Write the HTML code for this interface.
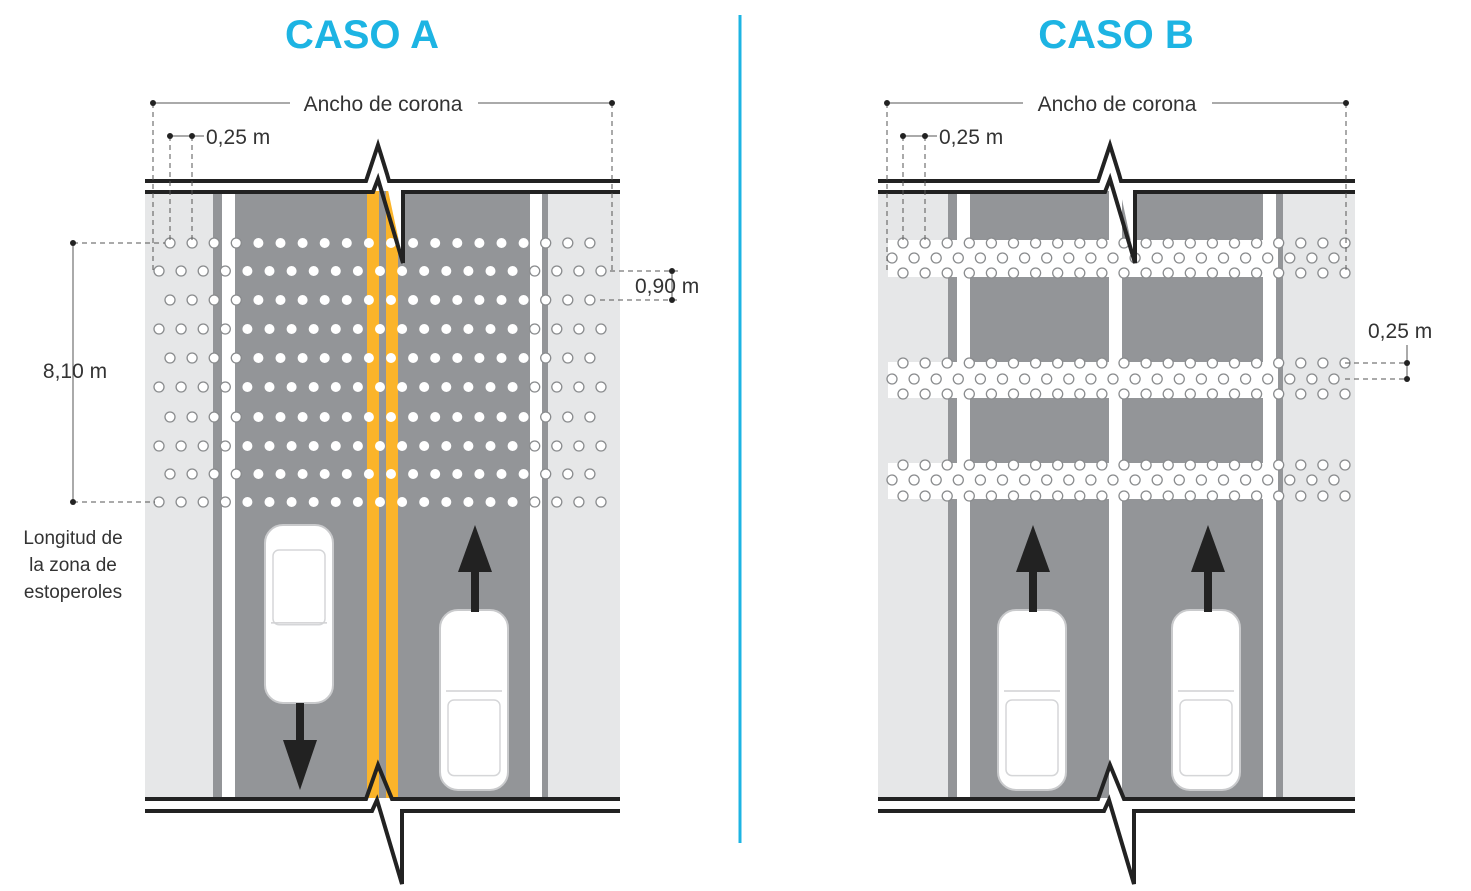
<!DOCTYPE html>
<html><head><meta charset="utf-8"><style>
html,body{margin:0;padding:0;background:#fff;}
svg{display:block;font-family:"Liberation Sans",sans-serif;}
</style></head><body>
<svg id="s" width="1471" height="891" viewBox="0 0 1471 891" xmlns="http://www.w3.org/2000/svg">
<rect x="145" y="186" width="475" height="612" fill="#e6e7e8"/>
<rect x="213" y="186" width="335" height="612" fill="#939598"/>
<rect x="222" y="186" width="13" height="612" fill="#fff"/>
<rect x="530" y="186" width="12" height="612" fill="#fff"/>
<rect x="367" y="186" width="12" height="612" fill="#fbb42a"/>
<rect x="386" y="186" width="12" height="612" fill="#fbb42a"/>
<rect x="878" y="186" width="477" height="612" fill="#e6e7e8"/>
<rect x="948" y="186" width="335" height="612" fill="#939598"/>
<rect x="957" y="186" width="13" height="612" fill="#fff"/>
<rect x="1109" y="186" width="13" height="612" fill="#fff"/>
<rect x="1263" y="186" width="13" height="612" fill="#fff"/>
<rect x="888" y="240" width="390" height="37" fill="#fff"/>
<rect x="888" y="362" width="390" height="36" fill="#fff"/>
<rect x="888" y="463" width="390" height="36" fill="#fff"/>
<g id="dots"></g>
<g id="brk"></g>
<text x="362" y="48" text-anchor="middle" font-size="40" font-weight="bold" fill="#1db4e3">CASO A</text>
<text x="1116" y="48" text-anchor="middle" font-size="40" font-weight="bold" fill="#1db4e3">CASO B</text>
<line x1="740" y1="15" x2="740" y2="843" stroke="#1db4e3" stroke-width="3"/>
<g stroke="#555" stroke-width="1" fill="none">
<line x1="153" y1="103" x2="290" y2="103"/><line x1="478" y1="103" x2="612" y2="103"/>
<line x1="153" y1="103" x2="153" y2="272" stroke-dasharray="5,4"/>
<line x1="612" y1="103" x2="612" y2="272" stroke-dasharray="5,4"/>
<line x1="170" y1="136" x2="204" y2="136"/>
<line x1="170" y1="136" x2="170" y2="243" stroke-dasharray="5,4"/>
<line x1="192" y1="136" x2="192" y2="243" stroke-dasharray="5,4"/>
<line x1="73" y1="243" x2="73" y2="502"/>
<line x1="73" y1="243" x2="165" y2="243" stroke-dasharray="5,4"/>
<line x1="73" y1="502" x2="155" y2="502" stroke-dasharray="5,4"/>
<line x1="672" y1="271" x2="672" y2="300"/>
<line x1="610" y1="271" x2="680" y2="271" stroke-dasharray="5,4"/>
<line x1="600" y1="300" x2="680" y2="300" stroke-dasharray="5,4"/>
<line x1="887" y1="103" x2="1023" y2="103"/><line x1="1212" y1="103" x2="1346" y2="103"/>
<line x1="887" y1="103" x2="887" y2="270" stroke-dasharray="5,4"/>
<line x1="1346" y1="103" x2="1346" y2="270" stroke-dasharray="5,4"/>
<line x1="903" y1="136" x2="937" y2="136"/>
<line x1="903" y1="136" x2="903" y2="243" stroke-dasharray="5,4"/>
<line x1="925" y1="136" x2="925" y2="243" stroke-dasharray="5,4"/>
<line x1="1407" y1="345" x2="1407" y2="382"/>
<line x1="1345" y1="363" x2="1410" y2="363" stroke-dasharray="5,4"/>
<line x1="1345" y1="379" x2="1410" y2="379" stroke-dasharray="5,4"/>
</g>
<g fill="#222">
<circle cx="153" cy="103" r="3"/><circle cx="612" cy="103" r="3"/>
<circle cx="170" cy="136" r="3"/><circle cx="192" cy="136" r="3"/>
<circle cx="73" cy="243" r="3"/><circle cx="73" cy="502" r="3"/>
<circle cx="672" cy="271" r="3"/><circle cx="672" cy="300" r="3"/>
<circle cx="887" cy="103" r="3"/><circle cx="1346" cy="103" r="3"/>
<circle cx="903" cy="136" r="3"/><circle cx="925" cy="136" r="3"/>
<circle cx="1407" cy="363" r="3"/><circle cx="1407" cy="379" r="3"/>
</g>
<g font-size="21" fill="#333">
<text x="383" y="111" text-anchor="middle">Ancho de corona</text>
<text x="206" y="144">0,25 m</text>
<text x="75" y="378" text-anchor="middle">8,10 m</text>
<text x="635" y="293">0,90 m</text>
<text x="1117" y="111" text-anchor="middle">Ancho de corona</text>
<text x="939" y="144">0,25 m</text>
<text x="1368" y="338">0,25 m</text>
</g>
<g font-size="19" fill="#333" text-anchor="middle">
<text x="73" y="544">Longitud de</text>
<text x="73" y="571">la zona de</text>
<text x="73" y="598">estoperoles</text>
</g>
<g id="cars"></g>
</svg>
<script>
var NS="http://www.w3.org/2000/svg";
function el(p,t,a){var e=document.createElementNS(NS,t);for(var k in a)e.setAttribute(k,a[k]);p.appendChild(e);return e;}
var d=document.getElementById('dots');
function dot(x,y,plain){if(plain)el(d,'circle',{cx:x,cy:y,r:5,fill:'#fff'});else el(d,'circle',{cx:x,cy:y,r:5,fill:'#fff',stroke:'#8a8c8e','stroke-width':1.3});}
var ys=[243,271,300,329,358,387,417,446,474,502];
ys.forEach(function(y,i){var x0=(i%2==0)?170:159;for(var x=x0;x<=612;x+=22.1)dot(x,y,(x>238&&x<527));});
[[243,258,273],[363,379,394],[465,480,496]].forEach(function(b){
 b.forEach(function(y,i){var x0=(i==1)?892:903;for(var x=x0;x<=1346;x+=22.1)dot(x,y,false);});
});
var g=document.getElementById('brk');
function road(x1,x2,bx,top){
 if(top){
  el(g,'rect',{x:x1,y:181,width:x2-x1,height:10,fill:'#fff'});
  el(g,'polygon',{points:(bx-13)+',181 '+bx+',143 '+(bx+26)+',265 '+(bx+26)+',191 '+(bx-6)+',191',fill:'#fff'});
  el(g,'polyline',{points:x1+',181 '+(bx-12)+',181 '+bx+',145 '+(bx+9)+',174 '+(bx+11)+',181 '+x2+',181',fill:'none',stroke:'#222','stroke-width':4});
  el(g,'polyline',{points:x1+',192 '+(bx-5)+',192 '+bx+',179 '+(bx+25)+',263 '+(bx+25)+',192 '+x2+',192',fill:'none',stroke:'#222','stroke-width':4});
 } else {
  el(g,'rect',{x:x1,y:799,width:x2-x1,height:12,fill:'#fff'});
  el(g,'polyline',{points:x1+',799 '+(bx-12)+',799 '+bx+',765 '+(bx+14)+',799 '+x2+',799',fill:'none',stroke:'#222','stroke-width':4});
  el(g,'polyline',{points:x1+',811 '+(bx-6)+',811 '+(bx-1)+',800 '+(bx+24)+',884 '+(bx+24)+',811 '+x2+',811',fill:'none',stroke:'#222','stroke-width':4});
 }
}
road(145,620,378,true);road(145,620,378,false);
road(878,1355,1110,true);road(878,1355,1110,false);
var c=document.getElementById('cars');
function car(x,y,w,h,down){
 el(c,'rect',{x:x,y:y,width:w,height:h,rx:18,fill:'#fff',stroke:'#c9cacc','stroke-width':2});
 el(c,'rect',{x:x+8,y:y+(down?25:h*0.5),width:w-16,height:h*0.42,rx:6,fill:'none',stroke:'#d5d6d8','stroke-width':1.5});
 el(c,'line',{x1:x+6,y1:y+h*(down?0.55:0.45),x2:x+w-6,y2:y+h*(down?0.55:0.45),stroke:'#d0d1d3','stroke-width':1.5});
}
function arrow(cx,ytip,ybase,yend){
 el(c,'polygon',{points:cx+','+ytip+' '+(cx-17)+','+ybase+' '+(cx+17)+','+ybase,fill:'#222'});
 el(c,'rect',{x:cx-4,y:Math.min(ybase,yend),width:8,height:Math.abs(yend-ybase),fill:'#222'});
}
car(265,525,68,178,true); arrow(300,790,740,703);
car(440,610,68,180,false); arrow(475,525,572,612);
car(998,610,68,180,false); arrow(1033,525,572,612);
car(1172,610,68,180,false); arrow(1208,525,572,612);
</script>
</body></html>
